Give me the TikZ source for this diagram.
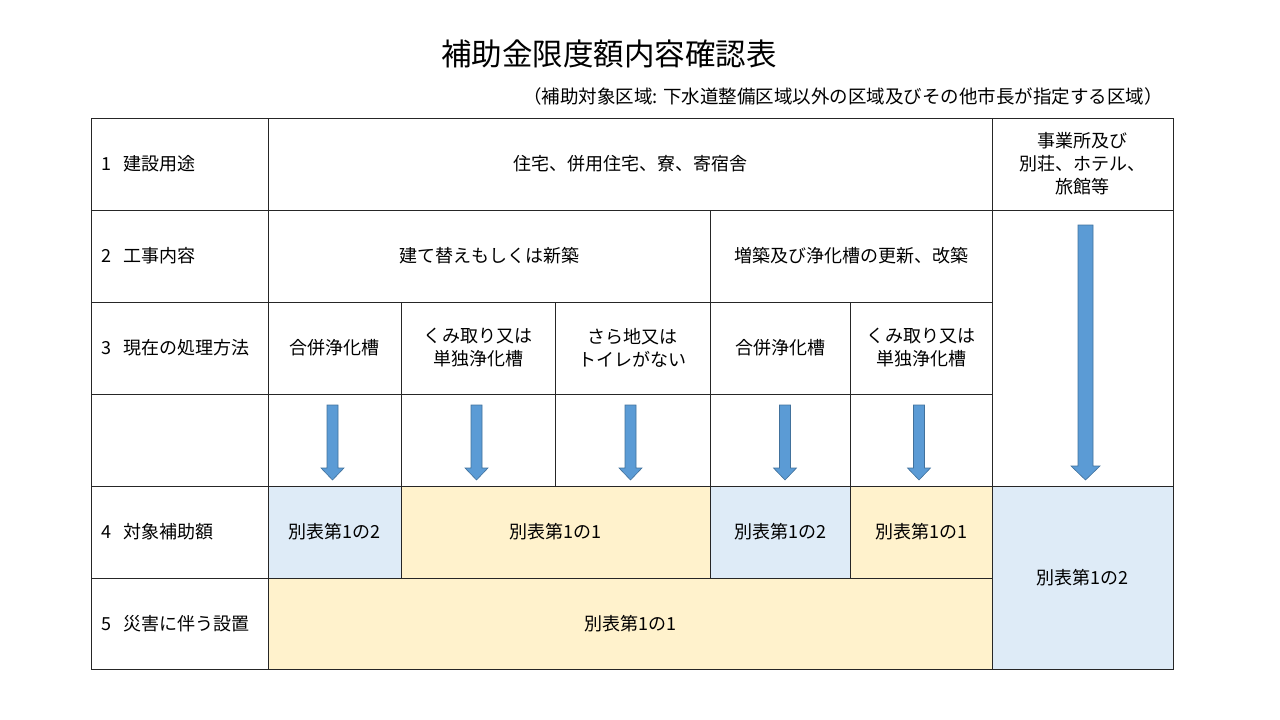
\documentclass[tikz,border=0pt]{standalone}
\usepackage{fontspec}
\setmainfont{Noto Sans CJK JP}
\usepackage{xcolor}
\usetikzlibrary{positioning}

\definecolor{cellblue}{HTML}{DEEBF7}
\definecolor{cellyellow}{HTML}{FFF2CC}
\definecolor{arrowfill}{HTML}{5B9BD5}
\definecolor{arrowedge}{HTML}{41719C}

\begin{document}
\begin{tikzpicture}[x=1pt, y=-1pt,
  body/.style={font=\fontsize{18}{23}\selectfont, align=center, inner sep=0pt},
  rowlabel/.style={body, anchor=west, align=left},
  grid/.style={line width=0.9pt, black!85}]
  \useasboundingbox (0,0) rectangle (1280,720);

  % Title
  \node[font=\fontsize{30.5}{34}\selectfont] (title) at (609,54) {補助金限度額内容確認表};
  \node[body, font=\fontsize{18.5}{23}\selectfont, anchor=east] (area) at (1163,96)
    {（補助対象区域: 下水道整備区域以外の区域及びその他市長が指定する区域）};

  % Cell fills
  \fill[cellblue]   (268,486) rectangle (401,578);
  \fill[cellyellow] (401,486) rectangle (710,578);
  \fill[cellblue]   (710,486) rectangle (850,578);
  \fill[cellyellow] (850,486) rectangle (992,578);
  \fill[cellyellow] (268,578) rectangle (992,669);
  \fill[cellblue]   (992,486) rectangle (1173,669);

  % Grid
  \draw[grid] (91,118) rectangle (1173,669);
  \foreach \y/\xa/\xb in {210/91/1173, 302/91/992, 394/91/992, 486/91/1173, 578/91/992} {
    \draw[grid] (\xa,\y) -- (\xb,\y);
  }
  \foreach \x/\ya/\yb in {268/118/669, 992/118/669, 710/210/578, 401/302/578,
                          555/302/486, 850/302/578} {
    \draw[grid] (\x,\ya) -- (\x,\yb);
  }

  % Row labels
  \node[rowlabel] (r1) at (101,164) {1\hspace{12pt}建設用途};
  \node[rowlabel] (r2) at (101,256) {2\hspace{12pt}工事内容};
  \node[rowlabel] (r3) at (101,348) {3\hspace{12pt}現在の処理方法};
  \node[rowlabel] (r4) at (101,532) {4\hspace{12pt}対象補助額};
  \node[rowlabel] (r5) at (101,624) {5\hspace{12pt}災害に伴う設置};

  % Row 1
  \node[body] (use) at (630,164) {住宅、併用住宅、寮、寄宿舎};
  \node[body] (biz) at (1082,164) {事業所及び\\別荘、ホテル、\\旅館等};

  % Row 2
  \node[body] (newbuild) at (489,256) {建て替えもしくは新築};
  \node[body] (extend) at (851,256) {増築及び浄化槽の更新、改築};

  % Row 3
  \node[body] (m1) at (334,348) {合併浄化槽};
  \node[body] (m2) at (478,348) {くみ取り又は\\単独浄化槽};
  \node[body] (m3) at (632,348) {さら地又は\\トイレがない};
  \node[body] (m4) at (780,348) {合併浄化槽};
  \node[body] (m5) at (921,348) {くみ取り又は\\単独浄化槽};

  % Row 4
  \node[body] (s1) at (334,532) {別表第1の2};
  \node[body] (s2) at (555,532) {別表第1の1};
  \node[body] (s3) at (780,532) {別表第1の2};
  \node[body] (s4) at (921,532) {別表第1の1};
  \node[body] (s5) at (1082,578) {別表第1の2};

  % Row 5
  \node[body] (d1) at (630,624) {別表第1の1};

  % Block arrows: centre / top / head start / tip / shaft half / head half
  \foreach \cx/\top/\hs/\tip/\sw/\hw in {332.5/405/468/480/5.5/11.5, 476.5/405/468/480/5.5/11.5,
      630.5/405/468/480/5.5/11.5, 785/405/468/480/5.5/11.5, 919/405/468/480/5.5/11.5,
      1085.5/225/466/480/7.5/14.5} {
    \filldraw[arrowfill, draw=arrowedge, line width=0.6pt]
      (\cx-\sw,\top) -- (\cx+\sw,\top) -- (\cx+\sw,\hs) -- (\cx+\hw,\hs)
      -- (\cx,\tip) -- (\cx-\hw,\hs) -- (\cx-\sw,\hs) -- cycle;
  }
\end{tikzpicture}
\end{document}
